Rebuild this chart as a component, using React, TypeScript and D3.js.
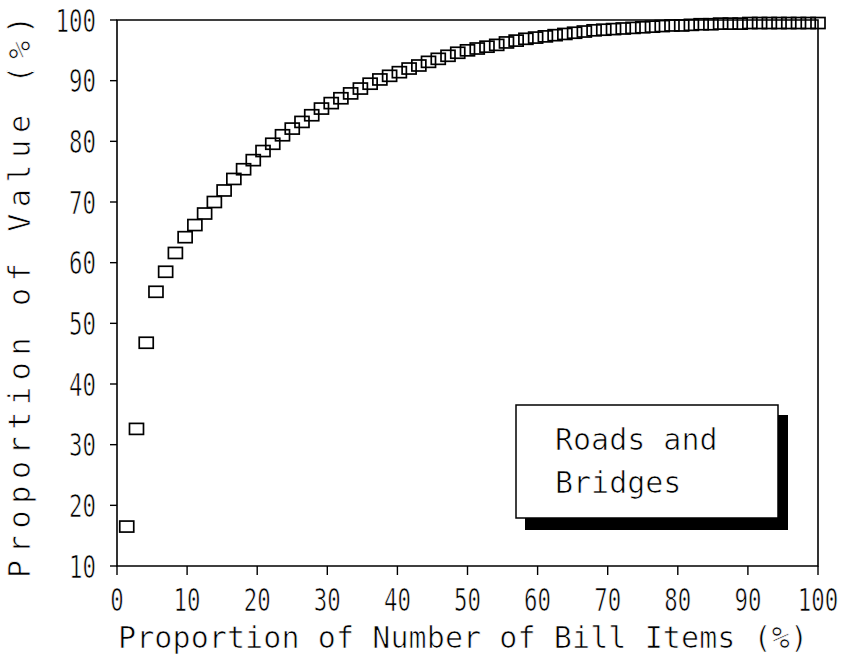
import * as d3 from 'd3'

// share of bill items (%) for each plotted point
const itemShare = [
	1.39, 2.78, 4.17, 5.56, 6.94, 8.33, 9.72, 11.11, 12.5, 13.89, 15.28, 16.67,
	18.06, 19.44, 20.83, 22.22, 23.61, 25.0, 26.39, 27.78, 29.17, 30.56, 31.94, 33.33,
	34.72, 36.11, 37.5, 38.89, 40.28, 41.67, 43.06, 44.44, 45.83, 47.22, 48.61, 50.0,
	51.39, 52.78, 54.17, 55.56, 56.94, 58.33, 59.72, 61.11, 62.5, 63.89, 65.28, 66.67,
	68.06, 69.44, 70.83, 72.22, 73.61, 75.0, 76.39, 77.78, 79.17, 80.56, 81.94, 83.33,
	84.72, 86.11, 87.5, 88.89, 90.28, 91.67, 93.06, 94.44, 95.83, 97.22, 98.61, 100.0,
]

// cumulative share of value (%)
const valueShare = [
	16.5, 32.6, 46.8, 55.2, 58.5, 61.6, 64.2, 66.2, 68.1, 70.0, 71.9, 73.8,
	75.4, 76.9, 78.4, 79.6, 81.0, 82.1, 83.2, 84.3, 85.4, 86.3, 87.1, 87.9,
	88.7, 89.5, 90.2, 90.8, 91.4, 92.0, 92.5, 93.1, 93.6, 94.1, 94.6, 95.0,
	95.3, 95.6, 95.9, 96.3, 96.6, 96.9, 97.1, 97.3, 97.5, 97.7, 97.9, 98.1,
	98.3, 98.4, 98.5, 98.6, 98.7, 98.8, 98.9, 99.0, 99.1, 99.1, 99.2, 99.3,
	99.3, 99.4, 99.4, 99.4, 99.5, 99.5, 99.5, 99.5, 99.5, 99.5, 99.5, 99.5,
]

const xTicks = [0, 10, 20, 30, 40, 50, 60, 70, 80, 90, 100]
const yTicks = [10, 20, 30, 40, 50, 60, 70, 80, 90, 100]
const legendLines = ['Roads and', 'Bridges']

const width = 847
const height = 665
const left = 117
const right = 818
const top = 20
const bottom = 566

const font = "'DejaVu Sans Mono', monospace"
// thin the strokes a bit, the original looks like a plotter font
const thin = { stroke: '#fff', strokeWidth: 0.7 }

export default function App() {
	const x = d3.scaleLinear().domain([0, 100]).range([left, right])
	const y = d3.scaleLinear().domain([10, 100]).range([bottom, top])

	const points = itemShare.map((v, i) => ({ x: v, y: valueShare[i] }))

	return (
		<svg
			width={width}
			height={height}
			style={{ position: 'absolute', left: 0, top: 0, background: '#fff' }}
		>
			{/* frame */}
			<path
				d={`M${left},${top}H${right}V${bottom}H${left}Z`}
				fill="none"
				stroke="#000"
				strokeWidth={1.6}
			/>

			{/* y axis */}
			{yTicks.map((t) => (
				<g key={'y' + t}>
					<line x1={left - 7} x2={left} y1={y(t)} y2={y(t)} stroke="#000" strokeWidth={1.4} />
					<text
						transform={`translate(96,${y(t) + 11.5}) scale(0.7,1)`}
						textAnchor="end"
						fontFamily={font}
						fontSize={32}
						{...thin}
					>
						{t}
					</text>
				</g>
			))}

			{/* x axis */}
			{xTicks.map((t) => (
				<g key={'x' + t}>
					<line x1={x(t)} x2={x(t)} y1={bottom} y2={bottom + 9} stroke="#000" strokeWidth={1.4} />
					<text
						transform={`translate(${x(t)},611) scale(0.7,1)`}
						textAnchor="middle"
						fontFamily={font}
						fontSize={32}
						{...thin}
					>
						{t}
					</text>
				</g>
			))}

			<text
				x={118}
				y={648}
				textLength={690}
				lengthAdjust="spacing"
				fontFamily={font}
				fontSize={30}
				{...thin}
			>
				Proportion of Number of Bill Items (%)
			</text>
			<text
				transform="translate(30,578) rotate(-90)"
				textLength={562}
				lengthAdjust="spacing"
				fontFamily={font}
				fontSize={30}
				{...thin}
			>
				Proportion of Value (%)
			</text>

			{/* markers */}
			{points.map((d, i) => (
				<rect
					key={i}
					x={x(d.x) - 7}
					y={y(d.y) - 5.5}
					width={14}
					height={11}
					fill="none"
					stroke="#000"
					strokeWidth={1.7}
				/>
			))}

			{/* legend with drop shadow */}
			<rect x={525} y={415} width={263} height={115} fill="#000" />
			<rect x={516} y={405} width={262} height={113} fill="#fff" stroke="#000" strokeWidth={1.5} />
			{legendLines.map((s, i) => (
				<text key={s} x={555} y={450 + i * 43} fontFamily={font} fontSize={30} {...thin}>
					{s}
				</text>
			))}
		</svg>
	)
}
